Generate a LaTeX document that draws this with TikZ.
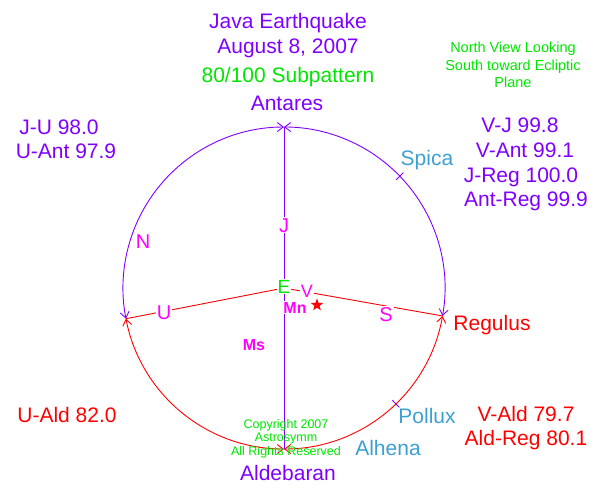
\documentclass[tikz,border=0pt]{standalone}
\usepackage{fontspec}
\setmainfont{Liberation Sans}
\usetikzlibrary{arrows.meta,shapes.geometric}
\definecolor{violetink}{RGB}{128,0,255}
\definecolor{limeink}{RGB}{0,230,0}
\definecolor{pinkink}{RGB}{255,0,255}
\definecolor{skyink}{RGB}{60,160,210}
\definecolor{redink}{RGB}{255,0,0}
\begin{document}
\begin{tikzpicture}[x=1pt,y=-1pt, line width=0.9pt,
    txt/.style={anchor=base, font=\fontsize{21}{23}\selectfont},
    note/.style={anchor=base, font=\fontsize{14.5}{16}\selectfont, text=limeink},
    letter/.style={anchor=base, font=\fontsize{20}{22}\selectfont, text=pinkink, fill=white, inner sep=1pt},
    barbs/.style={{Straight Barb[length=6pt,width=9pt]}-{Straight Barb[length=6pt,width=9pt]}}]
    \useasboundingbox (0,0) rectangle (600,496);
    % wheel
    \coordinate (ctr) at (284,288);
    \coordinate (ant) at ([shift={(-90:161)}]ctr);
    \coordinate (ald) at ([shift={(90:161)}]ctr);
    \coordinate (upt) at ([shift={(169:161)}]ctr);
    \coordinate (reg) at ([shift={(10:161)}]ctr);
    \draw[violetink, barbs] (reg) arc[start angle=10, end angle=-90, radius=161];
    \draw[violetink, barbs] (ant) arc[start angle=-90, end angle=-191, radius=161];
    \draw[redink, barbs] (upt) arc[start angle=169, end angle=90, radius=161];
    \draw[redink, barbs] (ald) arc[start angle=90, end angle=10, radius=161];
    \draw[violetink] (ant) -- (ald);
    \draw[redink] (upt) -- (ctr) -- (reg);
    % Spica and Pollux ticks
    \foreach \a in {-44,46}
        \draw[violetink] ([shift={(\a:156)}]ctr) -- ([shift={(\a:166)}]ctr);

    % titles
    \node[txt, text=violetink] (title) at (288,28) {Java Earthquake};
    \node[txt, text=violetink] (date) at (288,53) {August 8, 2007};
    \node[txt, text=limeink] (sub) at (288,82) {80/100 Subpattern};
    \node[txt, text=violetink] (antl) at (287,110) {Antares};
    \node[note] (view1) at (513,52) {North View Looking};
    \node[note] (view2) at (513,70) {South toward Ecliptic};
    \node[note] (view3) at (513,87) {Plane};

    % scores
    \node[txt, text=violetink] (vj) at (520,132) {V-J 99.8};
    \node[txt, text=violetink] (vant) at (525,157) {V-Ant 99.1};
    \node[txt, text=violetink] (jreg) at (521,182) {J-Reg 100.0};
    \node[txt, text=violetink] (antreg) at (526,206) {Ant-Reg 99.9};
    \node[txt, text=violetink] (ju) at (59,134) {J-U 98.0};
    \node[txt, text=violetink] (uant) at (66,158) {U-Ant 97.9};
    \node[txt, text=redink] (uald) at (67,422) {U-Ald 82.0};
    \node[txt, text=redink] (vald) at (526,421) {V-Ald 79.7};
    \node[txt, text=redink] (aldreg) at (526,445) {Ald-Reg 80.1};

    % stars
    \node[txt, text=skyink] (spica) at (427,165) {Spica};
    \node[txt, text=redink] (regl) at (492,330) {Regulus};
    \node[txt, text=skyink] (pollux) at (427,423) {Pollux};
    \node[txt, text=skyink] (alhena) at (388,455) {Alhena};
    \node[txt, text=violetink] (aldl) at (288,480) {Aldebaran};

    % planets
    \node[letter] (n) at (143,248) {N};
    \node[letter] (j) at (284,232) {J};
    \node[letter] (u) at (164,319) {U};
    \node[letter] (s) at (386,321) {S};
    \node[letter, text=limeink, font=\fontsize{19}{21}\selectfont] (e) at (284,293) {E};
    \node[letter, font=\fontsize{18}{20}\selectfont] (v) at (307,297) {V};
    \node[letter, font=\bfseries\fontsize{16}{18}\selectfont] (mn) at (295,313) {Mn};
    \node[star, star points=5, star point ratio=2.4, fill=redink, minimum size=13pt, inner sep=0pt] (sun) at (317,305) {};
    \node[letter, font=\bfseries\fontsize{16}{18}\selectfont, fill=none] (ms) at (254,350) {Ms};

    % copyright
    \node[note, font=\fontsize{12.5}{14}\selectfont] (copy1) at (286,428) {Copyright 2007};
    \node[note, font=\fontsize{12.5}{14}\selectfont] (copy2) at (286,441) {Astrosymm};
    \node[note, font=\fontsize{12.5}{14}\selectfont] (copy3) at (286,455) {All Rights Reserved};
\end{tikzpicture}
\end{document}
